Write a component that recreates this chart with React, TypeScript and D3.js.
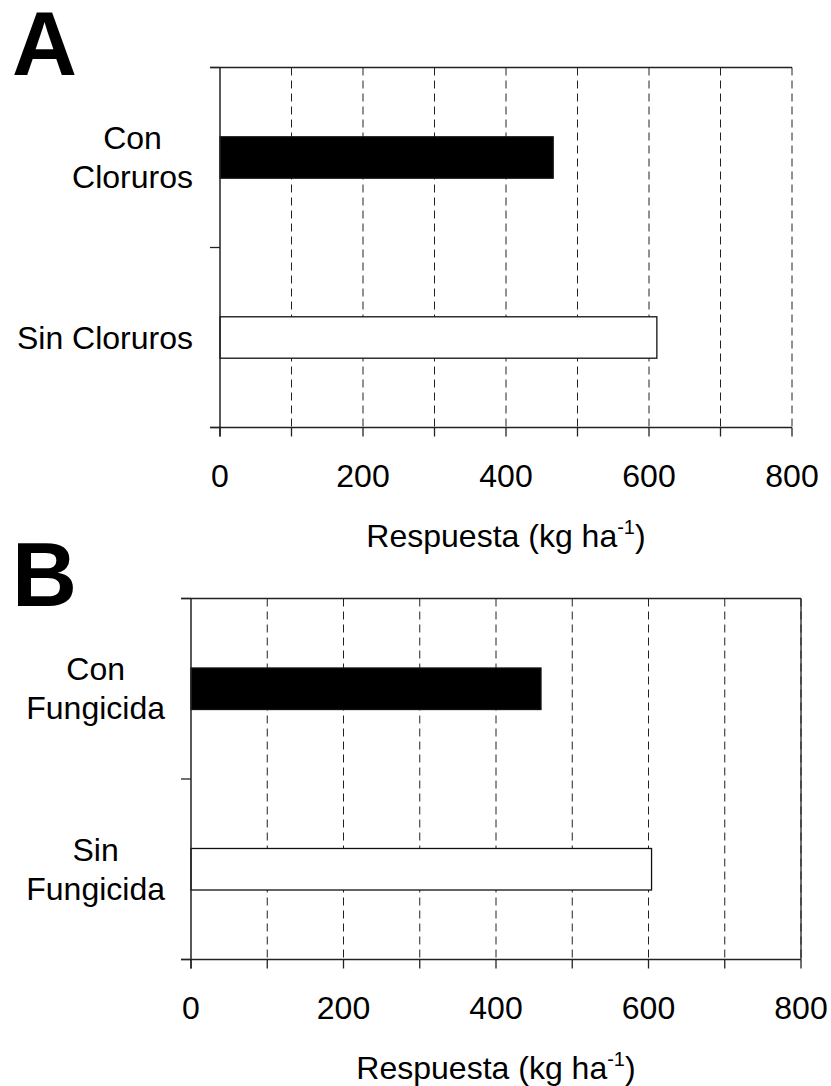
import React, { useEffect, useRef } from 'react'
import * as d3 from 'd3'

// panel A: cloruros
const catsA = [['Con', 'Cloruros'], ['Sin Cloruros']]
const valsA = [466, 611]
// panel B: fungicida
const catsB = [['Con', 'Fungicida'], ['Sin', 'Fungicida']]
const valsB = [459, 604]

const fills = ['#000000', '#ffffff']
const tickVals = [0, 200, 400, 600, 800]
const gridVals = [100, 200, 300, 400, 500, 600, 700, 800]
const xTitle = 'Respuesta (kg ha'
const xTitleSup = '-1'

const font = '"Liberation Sans", Arial, sans-serif'

type Panel = {
  letter: string
  cats: string[][]
  vals: number[]
  left: number
  right: number
  top: number
  bottom: number
  labelRight: number
  letterY: number
  rightBorder: boolean
}

const panels: Panel[] = [
  { letter: 'A', cats: catsA, vals: valsA, left: 220, right: 792, top: 67.5, bottom: 427.5, labelRight: 193, letterY: 75, rightBorder: false },
  { letter: 'B', cats: catsB, vals: valsB, left: 191, right: 801, top: 598.5, bottom: 959.5, labelRight: 165, letterY: 606, rightBorder: true },
]

function drawPanel(svg: d3.Selection<SVGSVGElement, unknown, null, undefined>, p: Panel) {
  const g = svg.append('g')
  const names = p.cats.map(c => c.join(' '))
  const x = d3.scaleLinear().domain([0, 800]).range([p.left, p.right])
  const y = d3.scaleBand().domain(names).range([p.top, p.bottom]).padding(0)
  const bh = y.bandwidth() * 0.23

  // dashed grid
  g.selectAll('.grid').data(gridVals).join('line')
    .attr('x1', d => x(d)).attr('x2', d => x(d))
    .attr('y1', p.top).attr('y2', p.bottom)
    .attr('stroke', '#222').attr('stroke-width', 1)
    .attr('stroke-dasharray', '8,5')

  // top border
  g.append('line').attr('x1', p.left - 10).attr('x2', p.right)
    .attr('y1', p.top).attr('y2', p.top).attr('stroke', '#222').attr('stroke-width', 1.3)
  if (p.rightBorder) {
    g.append('line').attr('x1', p.right).attr('x2', p.right)
      .attr('y1', p.top).attr('y2', p.bottom).attr('stroke', '#222').attr('stroke-width', 1.3)
  }

  // bars
  g.selectAll('.bar').data(p.vals).join('rect')
    .attr('x', x(0))
    .attr('y', (d, i) => (y(names[i]) as number) + (y.bandwidth() - bh) / 2)
    .attr('width', d => x(d) - x(0))
    .attr('height', bh)
    .attr('fill', (d, i) => fills[i])
    .attr('stroke', '#111').attr('stroke-width', 1.3)

  // left axis
  g.append('line').attr('x1', p.left).attr('x2', p.left)
    .attr('y1', p.top).attr('y2', p.bottom + 9).attr('stroke', '#222').attr('stroke-width', 1.5)
  const yTicks = [p.top, ...names.slice(1).map(n => y(n) as number), p.bottom]
  g.selectAll('.ytick').data(yTicks).join('line')
    .attr('x1', p.left - 10).attr('x2', p.left)
    .attr('y1', d => d).attr('y2', d => d)
    .attr('stroke', '#222').attr('stroke-width', 1.3)

  // bottom axis
  g.append('line').attr('x1', p.left - 10).attr('x2', p.right)
    .attr('y1', p.bottom).attr('y2', p.bottom).attr('stroke', '#222').attr('stroke-width', 1.3)
  g.selectAll('.xtick').data([0, ...gridVals]).join('line')
    .attr('x1', d => x(d)).attr('x2', d => x(d))
    .attr('y1', p.bottom).attr('y2', p.bottom + 9)
    .attr('stroke', '#222').attr('stroke-width', 1.3)
  g.selectAll('.xlab').data(tickVals).join('text')
    .attr('x', d => x(d)).attr('y', p.bottom + 59)
    .attr('text-anchor', 'middle')
    .style('font-family', font).style('font-size', '32px')
    .text(d => d)

  // x title
  const t = g.append('text')
    .attr('x', (p.left + p.right) / 2).attr('y', p.bottom + 119)
    .attr('text-anchor', 'middle')
    .style('font-family', font).style('font-size', '32px')
  t.append('tspan').text(xTitle)
  t.append('tspan').attr('dy', -13).style('font-size', '20px').text(xTitleSup)
  t.append('tspan').attr('dy', 13).text(')')

  // category labels: lines centred, block right-aligned
  p.cats.forEach((lines, i) => {
    const cy = (y(names[i]) as number) + y.bandwidth() / 2
    const lh = 39
    const txt = g.append('text')
      .attr('text-anchor', 'middle')
      .style('font-family', font).style('font-size', '32px')
    const spans = lines.map((ln, j) =>
      txt.append('tspan')
        .attr('y', cy + 11 + (j - (lines.length - 1) / 2) * lh)
        .text(ln))
    const maxW = d3.max(spans, s => (s.node() as SVGTSpanElement).getComputedTextLength()) || 0
    spans.forEach(s => s.attr('x', p.labelRight - maxW / 2))
  })

  // panel letter
  g.append('text').attr('x', 12).attr('y', p.letterY)
    .style('font-family', font).style('font-size', '90px').style('font-weight', 'bold')
    .text(p.letter)
}

export default function App() {
  const ref = useRef<SVGSVGElement>(null)
  useEffect(() => {
    const svg = d3.select(ref.current as SVGSVGElement)
    svg.selectAll('*').remove()
    panels.forEach(p => drawPanel(svg, p))
  }, [])
  return (
    <svg ref={ref} width={831} height={1086}
      style={{ position: 'absolute', left: 0, top: 0, background: '#fff' }} />
  )
}
